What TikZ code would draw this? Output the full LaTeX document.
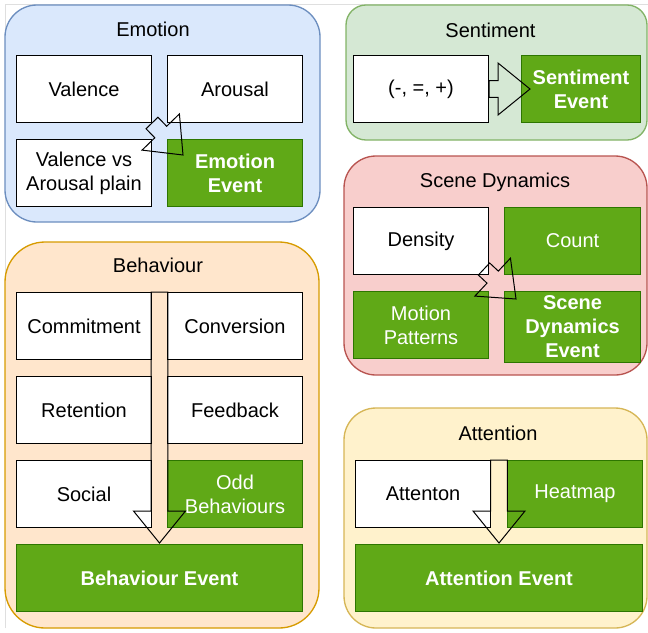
\documentclass[tikz,border=0pt]{standalone}
\usepackage{fontspec}
\setmainfont{Liberation Sans}
\usepackage{tikz}
\usetikzlibrary{positioning}
\usetikzlibrary{calc}

\definecolor{emofill}{HTML}{DAE8FC}
\definecolor{emoline}{HTML}{6C8EBF}
\definecolor{sentfill}{HTML}{D5E8D4}
\definecolor{sentline}{HTML}{82B366}
\definecolor{scenefill}{HTML}{F8CECC}
\definecolor{sceneline}{HTML}{B85450}
\definecolor{behfill}{HTML}{FFE6CC}
\definecolor{behline}{HTML}{D79B00}
\definecolor{attfill}{HTML}{FFF2CC}
\definecolor{attline}{HTML}{D6B656}
\definecolor{evfill}{HTML}{60A917}
\definecolor{evline}{HTML}{2D7600}

% block arrow from tail #1 to tip #2
\newcommand{\blockarrow}[2]{%
\coordinate (ba-b) at ($(#2)!24pt!(#1)$);
\draw[barrow] ($(#1)!6.2pt!90:(#2)$) -- ($(ba-b)!6.2pt!90:(#2)$) -- ($(ba-b)!19.5pt!90:(#2)$) -- (#2)
  -- ($(ba-b)!19.5pt!-90:(#2)$) -- ($(ba-b)!6.2pt!-90:(#2)$) -- ($(#1)!6.2pt!-90:(#2)$) -- cycle;}

\begin{document}
\begin{tikzpicture}[x=0.75pt, y=-0.75pt,
  group/.style={line width=1pt},
  title/.style={anchor=base, font=\fontsize{15}{18}\selectfont},
  wbox/.style={draw=black, fill=white, line width=0.75pt, anchor=north west, align=center,
    minimum width=101.25pt, minimum height=50.25pt, font=\fontsize{15}{18}\selectfont},
  gbox/.style={wbox, draw=evline, fill=evfill, text=white},
  evbox/.style={gbox, font=\fontsize{15}{18}\selectfont\bfseries},
  barrow/.style={draw=black, line width=0.75pt, fill=none, line join=miter}]
\useasboundingbox (0,0) rectangle (648,632);
\draw[gray!25, line width=0.6pt] (5,628) -- (5,4) -- (648,4);

%emotion
\draw[group, draw=emoline, fill=emofill, rounded corners=24pt] (5,5) rectangle (320,222);
\node[title] (emot) at (153,36.7) {Emotion};
\node[wbox] (val) at (16,55) {Valence};
\node[wbox] (aro) at (167,55) {Arousal};
\node[wbox] (vva) at (16,139) {Valence vs\\Arousal plain};
\node[evbox] (eev) at (167,139) {Emotion\\Event};
\coordinate (emotail) at (val.south east);
\coordinate (emotip) at ($(eev.north west)+(16,16)$);
\blockarrow{emotail}{emotip}

%sentiment
\draw[group, draw=sentline, fill=sentfill, rounded corners=15pt] (346,5) rectangle (647,140);
\node[title] (sentt) at (490.5,37) {Sentiment};
\node[wbox] (sent) at (353,55) {(-, =, +)};
\node[evbox, minimum width=89.25pt] (sev) at (521,55) {Sentiment\\Event};
\coordinate (senttail) at (sent.east);
\coordinate (senttip) at ($(sev.west)+(9,0)$);
\blockarrow{senttail}{senttip}

%scene dynamics
\draw[group, draw=sceneline, fill=scenefill, rounded corners=24pt] (344,156) rectangle (647,375);
\node[title] (scent) at (495,187) {Scene Dynamics};
\node[wbox] (den) at (353,207) {Density};
\node[gbox, minimum width=102pt] (cnt) at (504,207) {Count};
\node[gbox] (mot) at (353,291) {Motion\\Patterns};
\node[evbox, minimum width=102pt] (sde) at (504,291) {Scene\\Dynamics\\Event};
\coordinate (scenetail) at ($(den.south east)+(-5,-6)$);
\coordinate (scenetip) at ($(sde.north west)+(12,8)$);
\blockarrow{scenetail}{scenetip}

%behaviour
\draw[group, draw=behline, fill=behfill, rounded corners=30pt] (5,242) rectangle (319,628);
\node[title] (beht) at (158,272.7) {Behaviour};
\node[wbox] (com) at (16,292) {Commitment};
\node[wbox] (conv) at (167,292) {Conversion};
\node[wbox] (ret) at (16,376) {Retention};
\node[wbox] (feed) at (167,376) {Feedback};
\node[wbox] (soc) at (16,460) {Social};
\node[gbox] (odd) at (167,460) {Odd\\Behaviours};
\node[evbox, minimum width=214.5pt] (bev) at (16,544) {Behaviour Event};
\coordinate (behtail) at ($(com.north east)!0.5!(conv.north west)$);
\coordinate (behtip) at ($(bev.north)+(0,-1)$);
\blockarrow{behtail}{behtip}

%attention
\draw[group, draw=attline, fill=attfill, rounded corners=24pt] (344,408) rectangle (647,628);
\node[title] (attt) at (498,440.7) {Attention};
\node[wbox] (att) at (355,460) {Attenton};
\node[gbox] (heat) at (507,460) {Heatmap};
\node[evbox, minimum width=215.25pt] (aev) at (355,544) {Attention Event};
\coordinate (atttail) at ($(att.north east)!0.5!(heat.north west)$);
\coordinate (atttip) at ($(aev.north)+(0,-1)$);
\blockarrow{atttail}{atttip}
\end{tikzpicture}
\end{document}
